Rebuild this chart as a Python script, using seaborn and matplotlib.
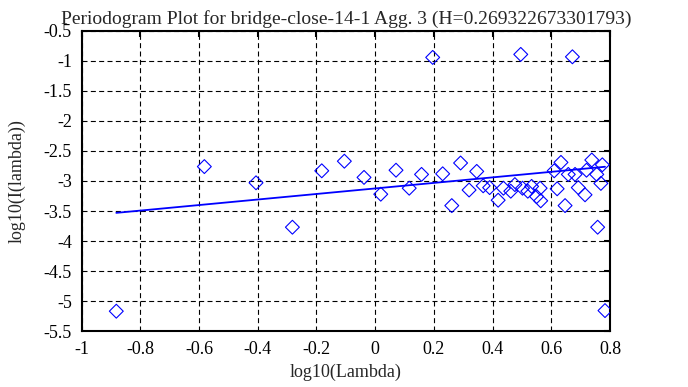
import pandas as pd
import matplotlib
matplotlib.use("Agg")
import matplotlib.pyplot as plt
import seaborn as sns


# Periodogram points (log10 of frequency vs log10 of periodogram)
log_lambda = [
    -0.882, -0.582, -0.406, -0.282, -0.182, -0.105, -0.038, 0.019, 0.071,
    0.116, 0.158, 0.196, 0.230, 0.261, 0.291, 0.320, 0.346, 0.368, 0.390,
    0.419, 0.437, 0.462, 0.476, 0.496, 0.502, 0.520, 0.533, 0.550, 0.562,
    0.564, 0.610, 0.620, 0.633, 0.647, 0.658, 0.672, 0.681, 0.692, 0.715,
    0.720, 0.738, 0.755, 0.758, 0.769, 0.774, 0.783,
]
log_periodogram = [
    -5.17, -2.76, -3.03, -3.77, -2.83, -2.67, -2.94, -3.22, -2.82,
    -3.12, -2.89, -0.94, -2.88, -3.41, -2.70, -3.15, -2.84, -3.08, -3.11,
    -3.32, -3.12, -3.17, -3.06, -0.89, -3.12, -3.17, -3.09, -3.26, -3.12,
    -3.33, -2.83, -3.13, -2.69, -3.41, -2.89, -0.93, -2.89, -3.11, -3.23,
    -2.82, -2.65, -2.89, -3.77, -3.04, -2.73, -5.16,
]

hurst = 0.269322673301793
fit_intercept = -3.124

x_ticks = [-1, -0.8, -0.6, -0.4, -0.2, 0, 0.2, 0.4, 0.6, 0.8]
y_ticks = [-0.5, -1, -1.5, -2, -2.5, -3, -3.5, -4, -4.5, -5, -5.5]


df = pd.DataFrame({"log_lambda": log_lambda, "log_I": log_periodogram})

# least squares line, slope = 1 - 2H
slope = 1 - 2 * hurst
fit_x = [min(log_lambda), max(log_lambda)]
fit_df = pd.DataFrame({
    "x": fit_x,
    "y": [fit_intercept + slope * v for v in fit_x],
})


sns.set_style("white")
plt.rcParams["font.family"] = ["Liberation Serif", "DejaVu Serif"]

fig = plt.figure(figsize=(6.88, 3.87), dpi=100)
ax = fig.add_axes([0.1187, 0.1447, 0.7679, 0.7752])

sns.scatterplot(
    data=df,
    x="log_lambda",
    y="log_I",
    marker="D",
    s=50,
    facecolor="none",
    edgecolor="#0000ff",
    linewidth=0.8,
    ax=ax,
    zorder=3
)

sns.lineplot(
    data=fit_df,
    x="x",
    y="y",
    color="#0000ff",
    linewidth=1.3,
    ax=ax,
    zorder=4
)

ax.set_xlim(-1, 0.8)
ax.set_ylim(-5.5, -0.5)
ax.set_xticks(x_ticks)
ax.set_yticks(y_ticks)
ax.set_xticklabels([f"{v:g}" for v in x_ticks])
ax.set_yticklabels([f"{v:g}" for v in y_ticks])

ax.grid(True, color="black", linestyle=(0, (4.5, 3)), linewidth=0.8)
ax.set_axisbelow(True)

for spine in ax.spines.values():
    spine.set_visible(True)
    spine.set_color("black")
    spine.set_linewidth(1.5)

ax.tick_params(
    direction="in",
    length=4,
    width=1.5,
    top=True,
    right=True,
    labelsize=13,
    pad=7,
    colors="black"
)

ax.set_title(
    "Periodogram Plot for bridge-close-14-1 Agg. 3 (H=0.269322673301793)",
    fontsize=14,
    pad=5
)
ax.set_xlabel("log10(Lambda)", fontsize=13, labelpad=4)
ax.set_ylabel("log10(I(lambda))", fontsize=13, labelpad=13)

plt.savefig("out.png", dpi=100)
plt.close()
